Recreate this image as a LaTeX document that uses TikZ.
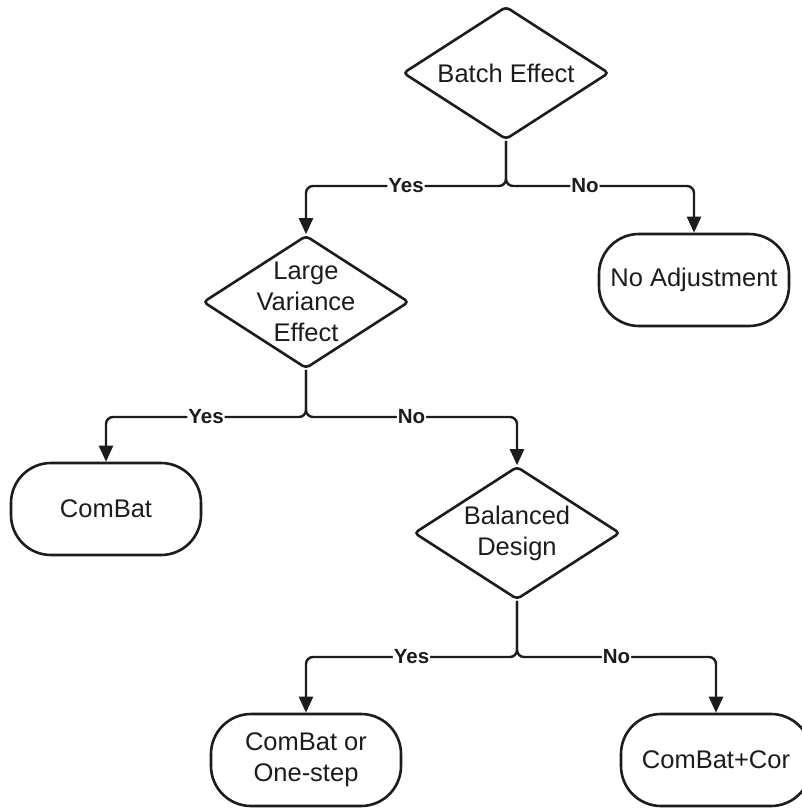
\documentclass[tikz,border=0pt]{standalone}
\usepackage{fontspec}
\setmainfont{Liberation Sans}
\usetikzlibrary{shapes.geometric,arrows.meta}
\definecolor{ink}{HTML}{1C1C1C}
\tikzset{
  dtext/.style={align=center, font=\fontsize{25.5}{31}\selectfont, text=ink, inner sep=0pt},
  decision/.style={diamond, draw=ink, line width=2.6pt, rounded corners=4pt, inner sep=0pt,
    minimum width=206pt, minimum height=133pt, label={[dtext]center:{#1}}},
  terminal/.style={rectangle, draw=ink, line width=2.6pt, rounded corners=40pt, inner sep=0pt,
    minimum width=190pt, minimum height=92pt, align=center, font=\fontsize{25.5}{31}\selectfont, text=ink},
  conn/.style={draw=ink, line width=2.4pt, rounded corners=7pt, -{Triangle[length=16pt,width=14pt]}},
  lbl/.style={fill=white, inner sep=1pt, font=\bfseries\fontsize{20.5}{23}\selectfont, text=ink}
}
\begin{document}
\begin{tikzpicture}[x=1pt,y=-1pt]
\useasboundingbox (0,0) rectangle (802,809);
\node[decision={Batch Effect}] (be) at (506,73) {};
\node[terminal] (na) at (694,280) {No Adjustment};
\node[decision={Large\\Variance\\Effect}] (lv) at (306,302) {};
\node[terminal] (cb) at (106,509) {ComBat};
\node[decision={Balanced\\Design}] (bd) at (517,533) {};
\node[terminal] (co) at (306,760) {ComBat or\\One-step};
\node[terminal] (cc) at (716,760) {ComBat+Cor};

\coordinate (j1) at (506,186);
\coordinate (j2) at (306,417);
\coordinate (j3) at (517,657);

\draw[conn] (be.south) -- (j1) -| node[lbl,pos=0.25] {Yes} (lv.north);
\draw[conn] (be.south) -- (j1) -| node[lbl,pos=0.21] {No} (na.north);
\draw[conn] (lv.south) -- (j2) -| node[lbl,pos=0.25] {Yes} (cb.north);
\draw[conn] (lv.south) -- (j2) -| node[lbl,pos=0.25] {No} (bd.north);
\draw[conn] (bd.south) -- (j3) -| node[lbl,pos=0.25] {Yes} (co.north);
\draw[conn] (bd.south) -- (j3) -| node[lbl,pos=0.25] {No} (cc.north);
\end{tikzpicture}
\end{document}
